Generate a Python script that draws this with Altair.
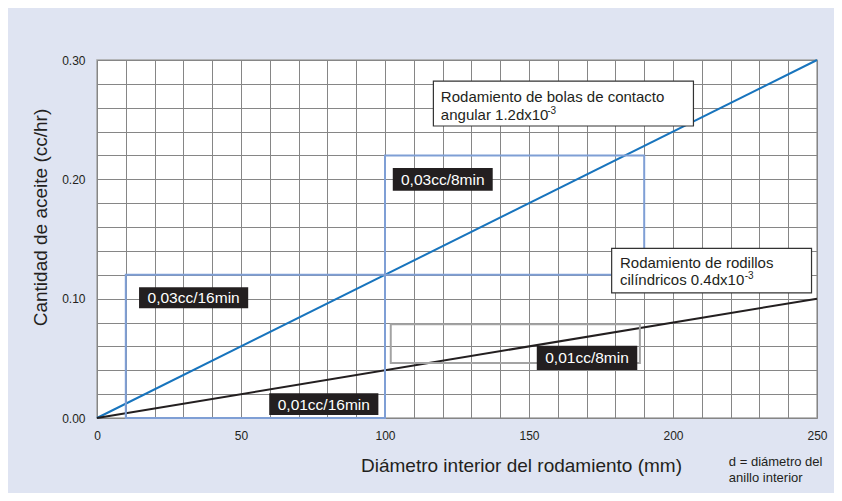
import altair as alt
import pandas as pd

FONT = "Liberation Sans"
INK = "#231f20"

# --- data -------------------------------------------------------------
diam = [0, 250]
oil_ball = [0.0, 0.30]
oil_roller = [0.0, 0.10]
series = ["bolas", "rodillos"]

x_ticks = [0, 10, 20, 30, 40, 50, 60, 70, 80, 90, 100, 110, 120, 130, 140,
           150, 160, 170, 180, 190, 200, 210, 220, 230, 240, 250]
y_ticks = [0.00, 0.02, 0.04, 0.06, 0.08, 0.10, 0.12, 0.14, 0.16, 0.18,
           0.20, 0.22, 0.24, 0.26, 0.28, 0.30]

guide_x = [10, 100]
guide_x2 = [100, 190]
guide_y = [0.0, 0.12]
guide_y2 = [0.12, 0.22]

gray_x = [102]
gray_x2 = [188.5]
gray_y = [0.046]
gray_y2 = [0.0785]

tag_text = ["0,03cc/8min", "0,03cc/16min", "0,01cc/16min", "0,01cc/8min"]
tag_x = [102.7, 14.6, 59.8, 152.7]
tag_x2 = [137.4, 52.5, 97.7, 187.6]
tag_y = [0.1905, 0.0919, 0.0025, 0.0402]
tag_y2 = [0.2095, 0.1095, 0.0207, 0.0606]

box_x = [116.8, 178.7]
box_x2 = [207.1, 248.1]
box_y = [0.2447, 0.1048]
box_y2 = [0.2823, 0.1422]

note_text = ["Rodamiento de bolas de contacto", "angular 1.2dx10",
             "Rodamiento de rodillos", "cil\u00edndricos 0.4dx10"]
note_x = [119.4, 119.4, 181.6, 181.6]
note_y = [0.2693, 0.2535, 0.1296, 0.1154]

sup_text = ["-3", "-3"]
sup_x = [156.3, 224.9]
sup_y = [0.2572, 0.1190]

foot_text = ["d = di\u00e1metro del", "anillo interior"]
foot_x = [219.4, 219.4]
foot_y = [-0.0366, -0.0503]

# --- tables -----------------------------------------------------------
lines_df = pd.DataFrame({
    "d": diam + diam,
    "oil": oil_ball + oil_roller,
    "serie": [series[0]] * 2 + [series[1]] * 2,
})
guide_df = pd.DataFrame({"d": guide_x, "x2": guide_x2, "oil": guide_y, "y2": guide_y2})
gray_df = pd.DataFrame({"d": gray_x, "x2": gray_x2, "oil": gray_y, "y2": gray_y2})
tag_df = pd.DataFrame({"t": tag_text, "d": tag_x, "x2": tag_x2, "oil": tag_y, "y2": tag_y2})
tag_df["cx"] = (tag_df["d"] + tag_df["x2"]) / 2
tag_df["cy"] = (tag_df["oil"] + tag_df["y2"]) / 2
box_df = pd.DataFrame({"d": box_x, "x2": box_x2, "oil": box_y, "y2": box_y2})
note_df = pd.DataFrame({"t": note_text, "d": note_x, "oil": note_y})
sup_df = pd.DataFrame({"t": sup_text, "d": sup_x, "oil": sup_y})
foot_df = pd.DataFrame({"t": foot_text, "d": foot_x, "oil": foot_y})

xs = alt.Scale(domain=[0, 250], nice=False)
ys = alt.Scale(domain=[0, 0.30], nice=False)

X_TITLE = "Di\u00e1metro interior del rodamiento (mm)"
Y_TITLE = "Cantidad de aceite (cc/hr)"

x_axis = alt.Axis(
    values=x_ticks, grid=True, gridColor="#868686", gridWidth=1, ticks=False,
    domain=False, labelExpr="datum.value % 50 === 0 ? datum.label : ''",
    labelPadding=12, labelFontSize=12, labelColor=INK, labelFont=FONT,
    labelFlush=False, labelOverlap=False,
    title=X_TITLE, titleFont=FONT,
    titleFontSize=19, titleFontWeight="normal", titleColor=INK,
    titleX=424, titleY=47, titleBaseline="middle", titleAlign="center",
)
y_axis = alt.Axis(
    values=y_ticks, grid=True, gridColor="#868686", gridWidth=1, ticks=False,
    domain=False,
    labelExpr="abs(datum.value*10 - round(datum.value*10)) < 0.001 ? format(datum.value, '.2f') : ''",
    labelPadding=12, labelFontSize=12, labelColor=INK, labelFont=FONT,
    labelFlush=False, labelOverlap=False,
    title=Y_TITLE, titleFont=FONT, titleFontSize=19,
    titleFontWeight="normal", titleColor=INK, titleAngle=270,
    titleX=-57, titleY=157, titleBaseline="middle", titleAlign="center",
)


def X(field):
    return alt.X(field, type="quantitative", scale=xs, axis=x_axis, title=X_TITLE)


def Y(field):
    return alt.Y(field, type="quantitative", scale=ys, axis=y_axis, title=Y_TITLE)


lines = alt.Chart(lines_df).mark_line(strokeWidth=2, clip=False).encode(
    x=X("d"), y=Y("oil"),
    color=alt.Color("serie:N", scale=alt.Scale(domain=series, range=["#1874bd", INK]), legend=None),
)

guides = alt.Chart(guide_df).mark_rect(fill=None, fillOpacity=0, stroke="#7f9fd5", strokeWidth=2).encode(
    x=X("d"), x2="x2", y=Y("oil"), y2="y2",
)
gray = alt.Chart(gray_df).mark_rect(fill=None, fillOpacity=0, stroke="#a3a3a3", strokeWidth=2).encode(
    x=X("d"), x2="x2", y=Y("oil"), y2="y2",
)
tag_boxes = alt.Chart(tag_df).mark_rect(fill=INK).encode(
    x=X("d"), x2="x2", y=Y("oil"), y2="y2",
)
tag_texts = alt.Chart(tag_df).mark_text(
    font=FONT, fontSize=15.5, color="white", align="center", baseline="middle", dy=0.5
).encode(
    x=X("cx"), y=Y("cy"), text="t:N",
)
note_boxes = alt.Chart(box_df).mark_rect(fill="white", stroke="#333333", strokeWidth=1.2).encode(
    x=X("d"), x2="x2", y=Y("oil"), y2="y2",
)
note_texts = alt.Chart(note_df).mark_text(
    font=FONT, fontSize=15, color=INK, align="left", baseline="middle"
).encode(
    x=X("d"), y=Y("oil"), text="t:N",
)
sup_texts = alt.Chart(sup_df).mark_text(
    font=FONT, fontSize=10, color=INK, align="left", baseline="middle"
).encode(
    x=X("d"), y=Y("oil"), text="t:N",
)
foot = alt.Chart(foot_df).mark_text(
    font=FONT, fontSize=13, color=INK, align="left", baseline="middle"
).encode(
    x=X("d"), y=Y("oil"), text="t:N",
)

chart = alt.layer(
    lines, guides, gray, note_boxes, note_texts, sup_texts, tag_boxes, tag_texts, foot
).properties(
    width=720, height=358,
    background="#dfe4f2",
    padding={"left": 89, "top": 52, "right": 17, "bottom": 75},
    autosize=alt.AutoSizeParams(type="none"),
).configure_view(
    fill="white", stroke="#a6a6a6", strokeWidth=1.5
)

chart.save("out.html", embed_options={"renderer": "svg", "actions": False})
